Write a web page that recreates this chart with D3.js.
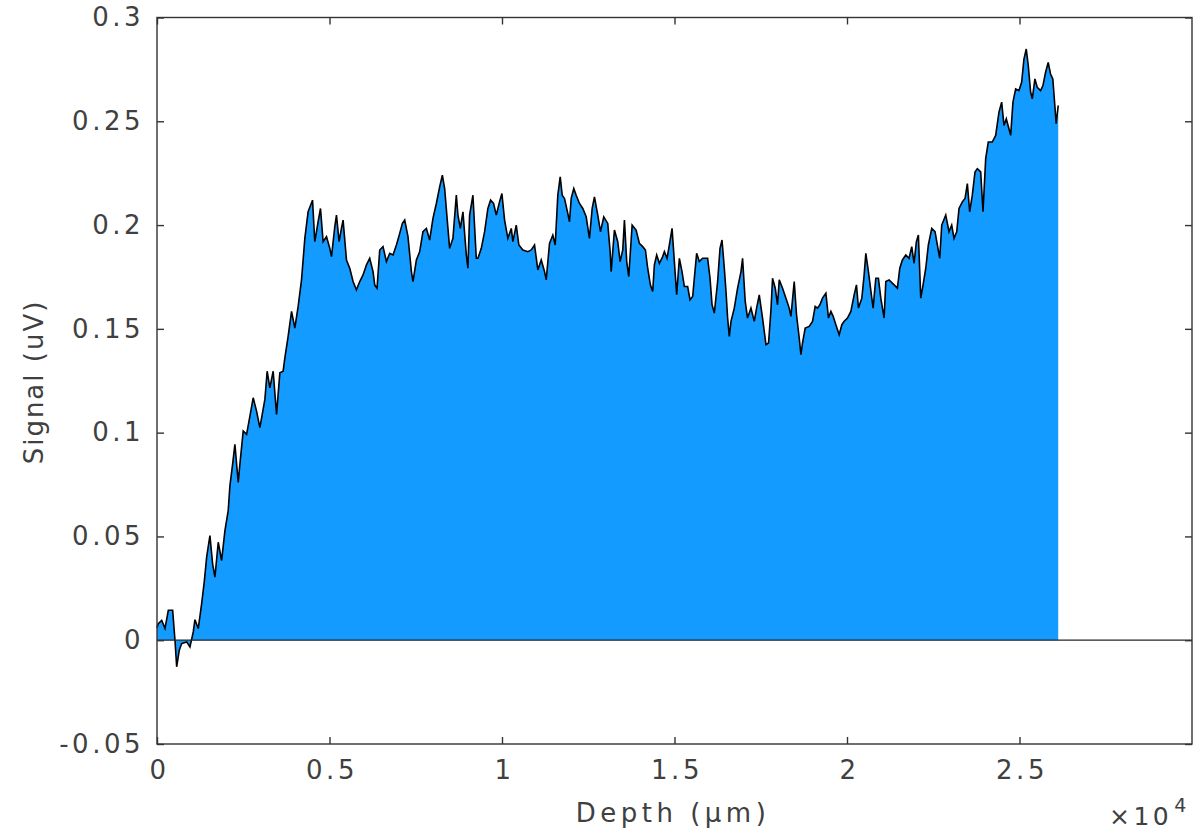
<!DOCTYPE html>
<html>
<head>
<meta charset="utf-8">
<script src="https://cdn.jsdelivr.net/npm/d3@7"></script>
<style>
  html, body { margin: 0; padding: 0; background: #fff; }
  svg { display: block; }
  text { font-family: "DejaVu Sans", sans-serif; fill: #404040; }
</style>
</head>
<body>
<svg id="chart" width="1196" height="833"></svg>
<script>
// ---- data ----
const depthUm = [0,38,136,232,328,454,521,570,646,715,860,955,1051,1100,1196,1294,1369,1439,1534,1612,1679,1775,1873,1969,2064,2113,2192,2258,2354,2403,2499,2597,2693,2788,2886,2982,3127,3193,3271,3367,3465,3561,3656,3706,3801,3900,3995,4091,4189,
4285,4380,4508,4574,4670,4739,4815,4913,5009,5058,5153,5202,5278,5346,5394,5492,5587,5683,5780,5877,5972,6071,6166,6262,6311,6378,6456,6551,6650,6745,6841,6939,7035,7113,7180,7275,7374,7420,7518,7614,7709,7808,7903,7999,8097,8193,8271,8338,8433,8482,8578,8676,8723,8792,8868,8966,9012,9061,9157,9255,9302,9400,9496,9591,9669,9756,9834,9930,9997,10075,10170,10269,10315,10413,10489,10605,10749,10848,10943,11039,11137,11233,11282,11377,11473,11542,
11618,11687,11745,11812,11907,11956,12006,12081,12150,12246,12342,12440,12535,12614,12680,12776,12854,12950,13065,13135,13164,13259,13355,13424,13500,13549,13615,13674,13772,13887,13983,14078,14157,14223,14301,14368,14417,14484,14562,14657,14707,14784,14851,14929,14996,15063,15141,15218,15286,15381,15450,15527,15584,15642,15720,15815,15960,16030,16088,16154,16250,16319,16377,16444,16493,16540,16588,16638,16733,16829,16927,16973,17050,17117,17216,17312,17379,17457,17552,17651,17726,17796,17842,17920,17987,18036,18132,18230,18325,18375,18470,18537,18615,18664,18711,18789,18904,19000,19078,19145,
19214,19290,19388,19463,19533,19599,19677,19773,19851,19918,20013,20112,20207,20274,20332,20430,20497,20546,20621,20719,20757,20835,20910,20980,21076,21125,21220,21365,21461,21530,21606,21704,21799,21877,21944,22011,22069,22138,22205,22283,22358,22457,22552,22619,22688,22746,22862,22957,23035,23102,23180,23247,23343,23421,23488,23556,23632,23710,23777,23875,23942,24020,24095,24211,24309,24405,24483,24550,24617,24694,24744,24810,24889,24984,25062,25129,25196,25254,25323,25370,25447,25514,25612,25679,25756,25832,25900,25966,26024,26063,26122];

const signalUv = [0.006,0.008,0.0096,0.0057,0.0144,0.0144,0,-0.0128,-0.0048,-0.0016,-0.0008,-0.0032,0.004,0.0099,0.0056,0.0176,0.028,0.04,0.0504,0.0368,0.0304,0.0472,0.0384,0.0528,0.0624,0.0744,0.0848,0.0944,0.076,0.0848,0.1008,0.0992,0.108,0.1168,0.1104,0.1024,0.116,0.1296,0.1216,0.1296,0.1088,0.1288,0.1296,0.136,0.1464,0.1584,0.1504,0.1608,0.1736,
0.1936,0.2064,0.212,0.192,0.2016,0.208,0.192,0.1944,0.1888,0.1848,0.1992,0.2048,0.192,0.1984,0.2024,0.1832,0.1792,0.1728,0.1688,0.1728,0.176,0.1808,0.184,0.1776,0.1712,0.1696,0.188,0.1896,0.1824,0.1864,0.1856,0.1904,0.196,0.2008,0.2024,0.1944,0.1776,0.1728,0.1832,0.1872,0.1968,0.1984,0.1928,0.2032,0.2104,0.2184,0.224,0.2176,0.1984,0.1888,0.1936,0.2144,0.2048,0.1984,0.2064,0.1856,0.1792,0.2048,0.2144,0.184,0.184,0.1888,0.1968,0.208,0.212,0.2104,0.2048,0.2112,0.2152,0.2024,0.1936,0.1984,0.192,0.2,0.1904,0.188,0.1872,0.188,0.1904,0.1784,0.1832,0.1776,0.1736,0.1912,0.1952,0.1904,
0.2144,0.2232,0.2144,0.2128,0.2056,0.2016,0.2128,0.2176,0.2144,0.2104,0.208,0.204,0.1936,0.208,0.2136,0.2048,0.1968,0.204,0.2008,0.1872,0.1776,0.1976,0.192,0.1824,0.188,0.2024,0.1824,0.1752,0.2,0.1976,0.1912,0.1896,0.188,0.1792,0.1712,0.168,0.1808,0.1856,0.1816,0.1848,0.1872,0.184,0.1904,0.1984,0.1824,0.1664,0.184,0.1776,0.1704,0.1704,0.164,0.1656,0.176,0.1864,0.1824,0.184,0.184,0.1744,0.1616,0.1576,0.1728,0.1888,0.1928,0.1792,0.168,0.1552,0.1464,0.1536,0.16,0.1696,0.1776,0.184,0.1632,0.1552,0.16,0.1536,0.16,0.1664,0.1552,0.1424,0.1432,0.1592,0.1744,0.1696,0.1616,0.1736,0.1696,0.1648,0.16,0.156,0.1728,0.1568,0.1456,0.1376,0.1432,0.1504,0.1512,0.1536,0.1608,0.16,
0.1616,0.1648,0.1672,0.1552,0.1584,0.156,0.152,0.1472,0.152,0.1536,0.1552,0.1584,0.1664,0.1712,0.16,0.1648,0.176,0.1864,0.1776,0.1648,0.16,0.1744,0.1744,0.1648,0.1552,0.1728,0.1736,0.1712,0.1696,0.1792,0.1832,0.1856,0.184,0.1896,0.1816,0.192,0.1952,0.1648,0.1712,0.1792,0.1904,0.1984,0.1968,0.1904,0.184,0.2,0.2048,0.1968,0.2,0.1936,0.1968,0.208,0.2112,0.2128,0.22,0.2064,0.2144,0.2256,0.2272,0.2256,0.2064,0.232,0.24,0.24,0.2432,0.2544,0.2592,0.248,0.2512,0.2464,0.2432,0.2592,0.2656,0.2648,0.2688,0.28,0.2848,0.2768,0.264,0.2608,0.2704,0.2664,0.2648,0.2672,0.2736,0.2784,0.2728,0.2704,0.2576,0.2488,0.2576];

const xTickValues = [0, 5000, 10000, 15000, 20000, 25000];
const xTickLabels = ["0", "0.5", "1", "1.5", "2", "2.5"];
const yTickValues = [-0.05, 0, 0.05, 0.1, 0.15, 0.2, 0.25, 0.3];
const yTickLabels = ["-0.05", "0", "0.05", "0.1", "0.15", "0.2", "0.25", "0.3"];
const xLabel = "Depth (\u03bcm)";
const yLabel = "Signal (uV)";
const xExponent = "4";

(function () {
  // ---- layout ----
  const mLeft = 157, mRight = 1192, mTop = 17.5, mBottom = 744;
  const svg = d3.select("#chart");
  const x = d3.scaleLinear().domain([0, 30000]).range([mLeft, mRight]);
  const y = d3.scaleLinear().domain([-0.05, 0.3]).range([mBottom, mTop]);

  const n = Math.min(depthUm.length, signalUv.length);
  const data = d3.range(n).map(i => ({ d: depthUm[i], v: signalUv[i] }));

  // area fill
  svg.append("path")
    .datum(data)
    .attr("fill", "#149bff")
    .attr("d", d3.area().x(p => x(p.d)).y0(y(0)).y1(p => y(p.v)));

  // outline
  svg.append("path")
    .datum(data)
    .attr("fill", "none")
    .attr("stroke", "#000")
    .attr("stroke-width", 1.6)
    .attr("d", d3.line().x(p => x(p.d)).y(p => y(p.v)));

  // zero baseline
  svg.append("line")
    .attr("x1", mLeft).attr("x2", mRight)
    .attr("y1", y(0)).attr("y2", y(0))
    .attr("stroke", "#262626").attr("stroke-width", 1.3);

  const axisColor = "#333";
  const tickLen = 7;
  const fs = 26;

  // frame
  svg.append("rect")
    .attr("x", mLeft).attr("y", mTop)
    .attr("width", mRight - mLeft).attr("height", mBottom - mTop)
    .attr("fill", "none").attr("stroke", axisColor).attr("stroke-width", 1.4);

  // bottom axis (ticks inward)
  const xAxis = d3.axisBottom(x).tickValues(xTickValues)
    .tickFormat((d, i) => xTickLabels[i]).tickSizeInner(-tickLen).tickSizeOuter(0).tickPadding(17);
  const gx = svg.append("g").attr("transform", `translate(0,${mBottom})`).call(xAxis);
  gx.select(".domain").remove();
  gx.selectAll(".tick line").attr("stroke", axisColor).attr("stroke-width", 1.4);
  gx.selectAll(".tick text").attr("font-size", fs).attr("letter-spacing", "3.5px")
    .attr("dx", "2px").attr("fill", "#404040").attr("font-family", "DejaVu Sans");

  // top mirrored ticks
  const xTop = d3.axisTop(x).tickValues(xTickValues).tickFormat("").tickSizeInner(-tickLen).tickSizeOuter(0);
  const gxt = svg.append("g").attr("transform", `translate(0,${mTop})`).call(xTop);
  gxt.select(".domain").remove();
  gxt.selectAll(".tick line").attr("stroke", axisColor).attr("stroke-width", 1.4);

  // left axis
  const yAxis = d3.axisLeft(y).tickValues(yTickValues)
    .tickFormat((d, i) => yTickLabels[i]).tickSizeInner(-tickLen).tickSizeOuter(0).tickPadding(13);
  const gy = svg.append("g").attr("transform", `translate(${mLeft},0)`).call(yAxis);
  gy.select(".domain").remove();
  gy.selectAll(".tick line").attr("stroke", axisColor).attr("stroke-width", 1.4);
  gy.selectAll(".tick text").attr("font-size", fs).attr("letter-spacing", "3.5px")
    .attr("fill", "#404040").attr("font-family", "DejaVu Sans");

  // right mirrored ticks
  const yRight = d3.axisRight(y).tickValues(yTickValues).tickFormat("").tickSizeInner(-tickLen).tickSizeOuter(0);
  const gyr = svg.append("g").attr("transform", `translate(${mRight},0)`).call(yRight);
  gyr.select(".domain").remove();
  gyr.selectAll(".tick line").attr("stroke", axisColor).attr("stroke-width", 1.4);

  // axis labels
  svg.append("text")
    .attr("x", 673).attr("y", 822)
    .attr("text-anchor", "middle").attr("font-size", fs).attr("letter-spacing", "4.5px")
    .text(xLabel);

  svg.append("text")
    .attr("transform", `translate(43,382) rotate(-90)`)
    .attr("text-anchor", "middle").attr("font-size", fs).attr("letter-spacing", "2px")
    .text(yLabel);

  // exponent
  const ex = svg.append("text").attr("x", 1109).attr("y", 825).attr("font-size", 25).attr("letter-spacing", "3.5px");
  ex.append("tspan").text("\u00d710");
  ex.append("tspan").attr("font-size", 19).attr("dy", -13).attr("dx", 2).text(xExponent);
})();
</script>
</body>
</html>
